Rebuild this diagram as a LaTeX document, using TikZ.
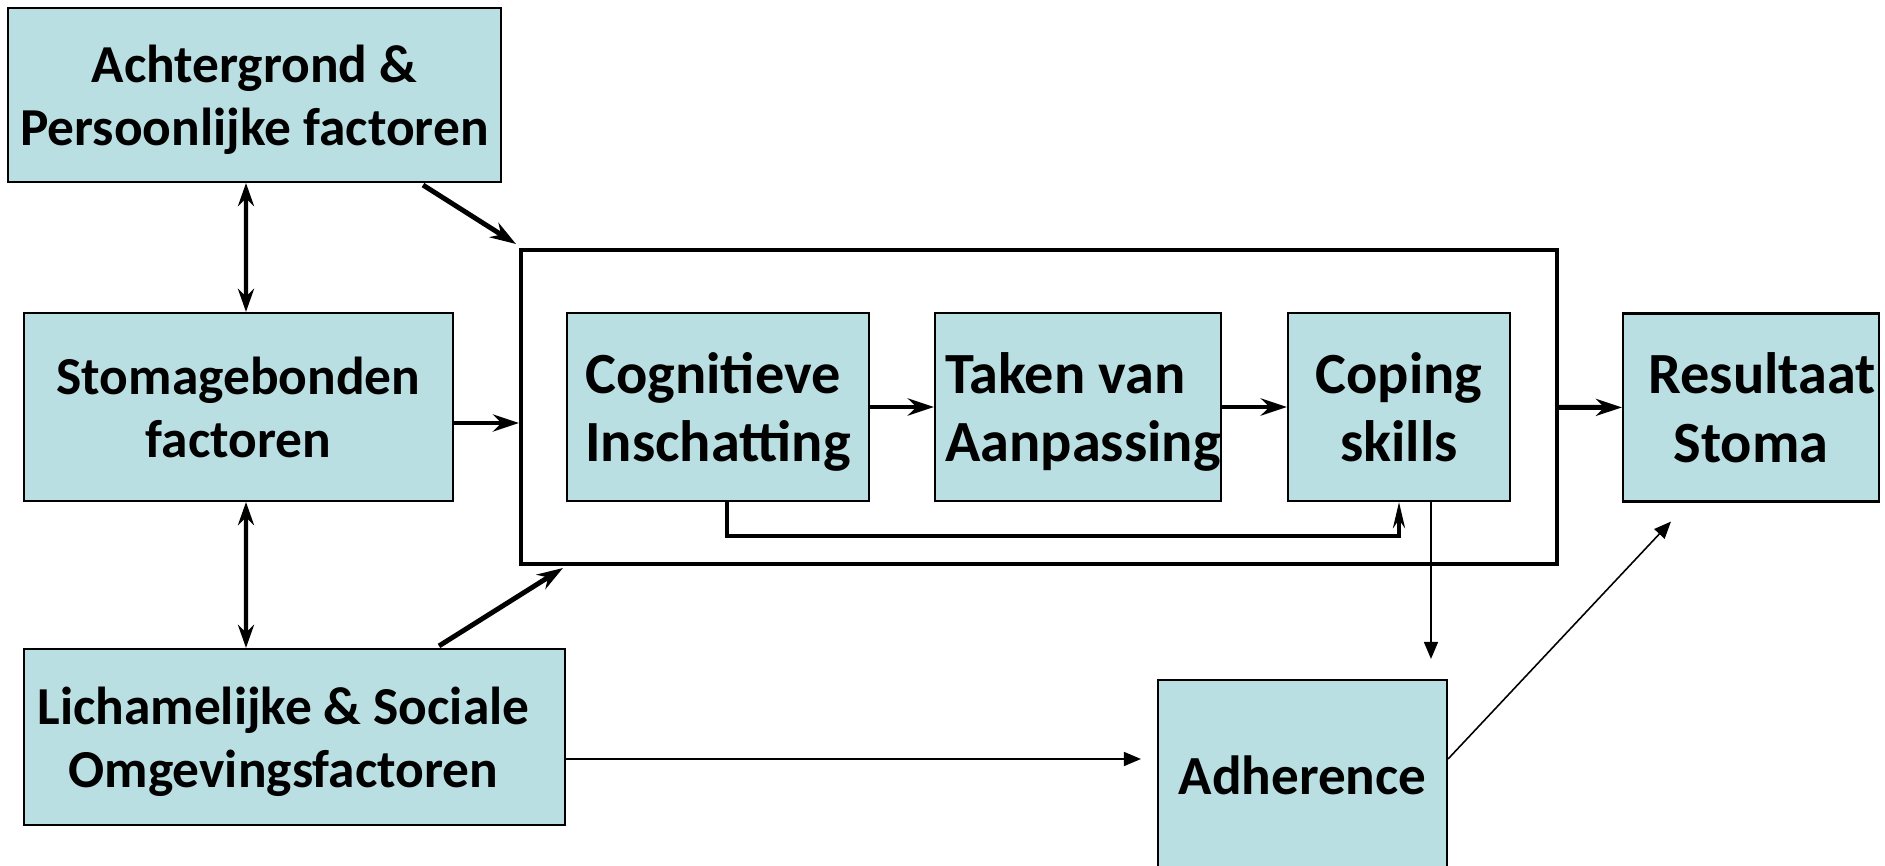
\documentclass[tikz,border=0pt]{standalone}
\usepackage{fontspec}
\setmainfont{Carlito}
\usetikzlibrary{arrows.meta,calc}
\definecolor{boxfill}{RGB}{186,223,226}

\begin{document}
\begin{tikzpicture}
            [x=0.1mm,y=-0.1mm,
             every node/.style={rectangle,inner sep=0pt,align=center},
             box/.style={draw,fill=boxfill,line width=0.6pt,text depth=0pt,font=\bfseries\fontsize{15.2}{18}\selectfont},
             inbox/.style={box,minimum height=18.8mm,font=\bfseries\fontsize{16.6}{19.4}\selectfont},
             fat/.style={line width=1.4pt,-{Stealth[length=2.6mm,width=1.7mm]}},
             both/.style={line width=1.15pt,{Stealth[length=2.3mm,width=1.6mm]}-{Stealth[length=2.3mm,width=1.6mm]}},
             thin/.style={line width=0.45pt,-{Triangle[length=1.7mm,width=1.4mm]}}]
            \useasboundingbox (0,0) rectangle (1885,866);
            \node[box,minimum width=49.3mm,minimum height=17.4mm] (1) at (254.5,95) {Achtergrond \&\\Persoonlijke factoren};
            \node[box,minimum width=42.9mm,minimum height=18.8mm] (2) at (238.5,407) {Stomagebonden\\factoren};
            \node[box,minimum width=54.1mm,minimum height=17.6mm] (3) at (294.5,737) {Lichamelijke \& Sociale\hspace*{2.2mm}\\Omgevingsfactoren\hspace*{2.2mm}};
            \node[draw,line width=1.15pt,minimum width=103.6mm,minimum height=31.4mm] (9) at (1039,407) {};
            \node[inbox,minimum width=30.2mm,align=left] (4) at (718,407) {Cognitieve\\Inschatting};
            \node[inbox,minimum width=28.6mm,align=left] (5) at (1078,407) {\hspace*{1mm}Taken van\\\hspace*{1mm}Aanpassing};
            \node[inbox,minimum width=22.2mm] (6) at (1399,407) {Coping\\skills};
            \node[inbox,minimum width=25.6mm] (7) at (1751,407.5) {\hspace*{2.2mm}Resultaat\\Stoma};
            \node[inbox,minimum width=28.9mm,minimum height=19mm,font=\bfseries\fontsize{15.7}{19}\selectfont] (8) at (1302.5,775) {Adherence};
            \draw[fat] ($(1.south)+(168.5,2)$) -- ($(9.north west)+(-3,-4)$);
            \draw[both] ($(1.south)+(-8.5,0)$) -- ($(2.north)+(7.5,0)$);
            \draw[both] ($(2.south)+(7.5,0)$) -- ($(3.north)+(-48.5,0)$);
            \draw[fat] ($(2.east)+(0,16)$) -- ($(9.west)+(0,16)$);
            \draw[fat] ($(3.north)+(144.5,-2)$) -- ($(9.south west)+(44,2)$);
            \draw[fat] (4) -- (5);
            \draw[fat] (5) -- (6);
            \draw[fat] (9) -- (7);
            \draw[line width=1.15pt,-{Stealth[length=2.6mm,width=1.2mm]}] ($(4.south)+(9,0)$) -- ++(0,34) -| (6.south);
            \coordinate (c) at ($(6.south)+(32,0)$);
            \draw[thin,shorten >=2mm] (c) -- (c |- 8.north);
            \draw[thin,shorten >=1.6mm] ($(3.east)+(0,22)$) -- ($(8.west)+(0,-16)$);
            \draw[thin] ($(8.east)+(0,-16)$) -- ($(7.south)+(-80,19)$);

        \end{tikzpicture}
\end{document}
